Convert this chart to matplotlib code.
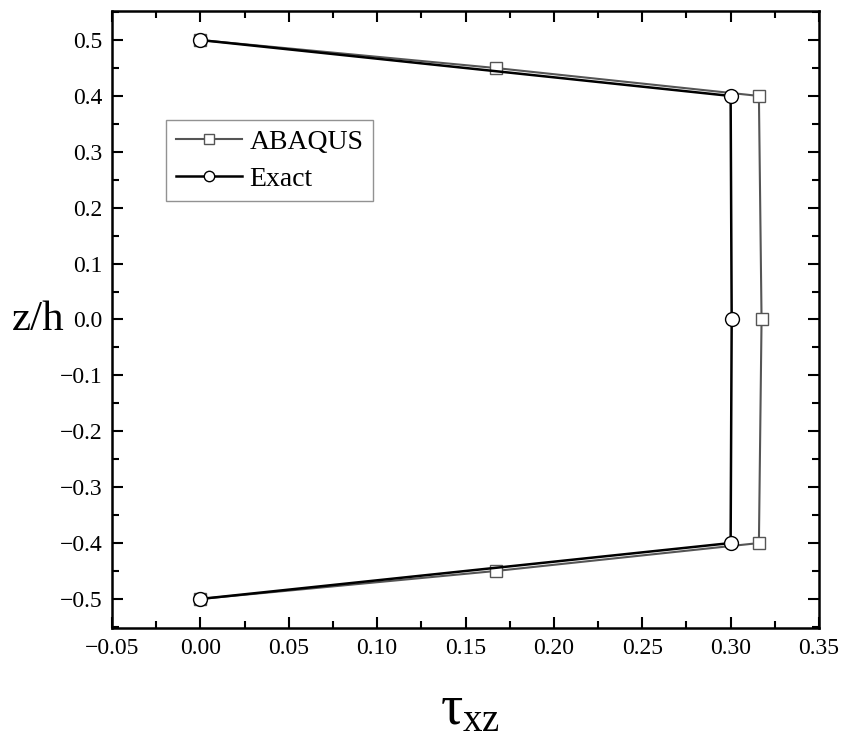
import numpy as np
import matplotlib.pyplot as plt

plt.rcParams['font.family'] = ['Liberation Serif', 'DejaVu Serif']
plt.rcParams['mathtext.fontset'] = 'custom'
plt.rcParams['mathtext.rm'] = 'Liberation Serif'
plt.rcParams['mathtext.it'] = 'Liberation Serif'

# Данные
z_abaqus = [0.5, 0.45, 0.4, 0.0, -0.4, -0.45, -0.5]
tau_abaqus = [0.0, 0.167, 0.316, 0.3175, 0.316, 0.167, 0.0]
z_exact = [0.5, 0.4, 0.0, -0.4, -0.5]
tau_exact = [0.0, 0.300, 0.3006, 0.300, 0.0]

fig = plt.figure(figsize=(8.43, 7.38), dpi=100)
ax = fig.add_axes([112 / 843, 1 - 628 / 738, 707 / 843, 617 / 738])

ax.plot(tau_abaqus, z_abaqus, color="#555555", linewidth=1.5, marker="s",
        markersize=9, markerfacecolor="white", markeredgecolor="#555555",
        markeredgewidth=1.0, label="ABAQUS")
ax.plot(tau_exact, z_exact, color="black", linewidth=1.8, marker="o",
        markersize=10, markerfacecolor="white", markeredgecolor="black",
        markeredgewidth=1.0, label="Exact")

ax.set_xlim(-0.05, 0.35)
ax.set_ylim(-0.552, 0.552)
ax.set_xticks(np.arange(-0.05, 0.351, 0.05))
ax.set_xticklabels(["\u22120.05", "0.00", "0.05", "0.10", "0.15", "0.20", "0.25", "0.30", "0.35"])
yt = np.round(np.arange(-0.5, 0.51, 0.1), 1)
ax.set_yticks(yt)
ax.set_yticklabels([f"{v:.1f}".replace("-", "\u2212") if v != 0 else "0.0" for v in yt])
ax.set_xticks(np.arange(-0.025, 0.35, 0.05), minor=True)
ax.set_yticks(np.arange(-0.55, 0.56, 0.05), minor=True)
ax.tick_params(which="both", direction="in", top=True, right=True, labelsize=17, width=1.5)
ax.tick_params(which="major", length=8, pad=7)
ax.tick_params(which="minor", length=5)
for s in ax.spines.values():
    s.set_linewidth(1.8)

# подписи осей
fig.text(470 / 843, 2 / 738, r"$\tau_{\mathrm{xz}}$", fontsize=40, ha="center", va="bottom")
fig.text(38 / 843, 1 - 320 / 738, "z/h", fontsize=31, ha="center", va="center")

ax.legend(loc="upper left", bbox_to_anchor=(54 / 707, 1 - 109 / 617), fontsize=20, frameon=True,
          fancybox=False, edgecolor="#777777", handlelength=2.4, borderpad=0.35,
          labelspacing=0.4, handletextpad=0.25, borderaxespad=0, markerscale=0.75)

plt.savefig("out.png", dpi=100)
